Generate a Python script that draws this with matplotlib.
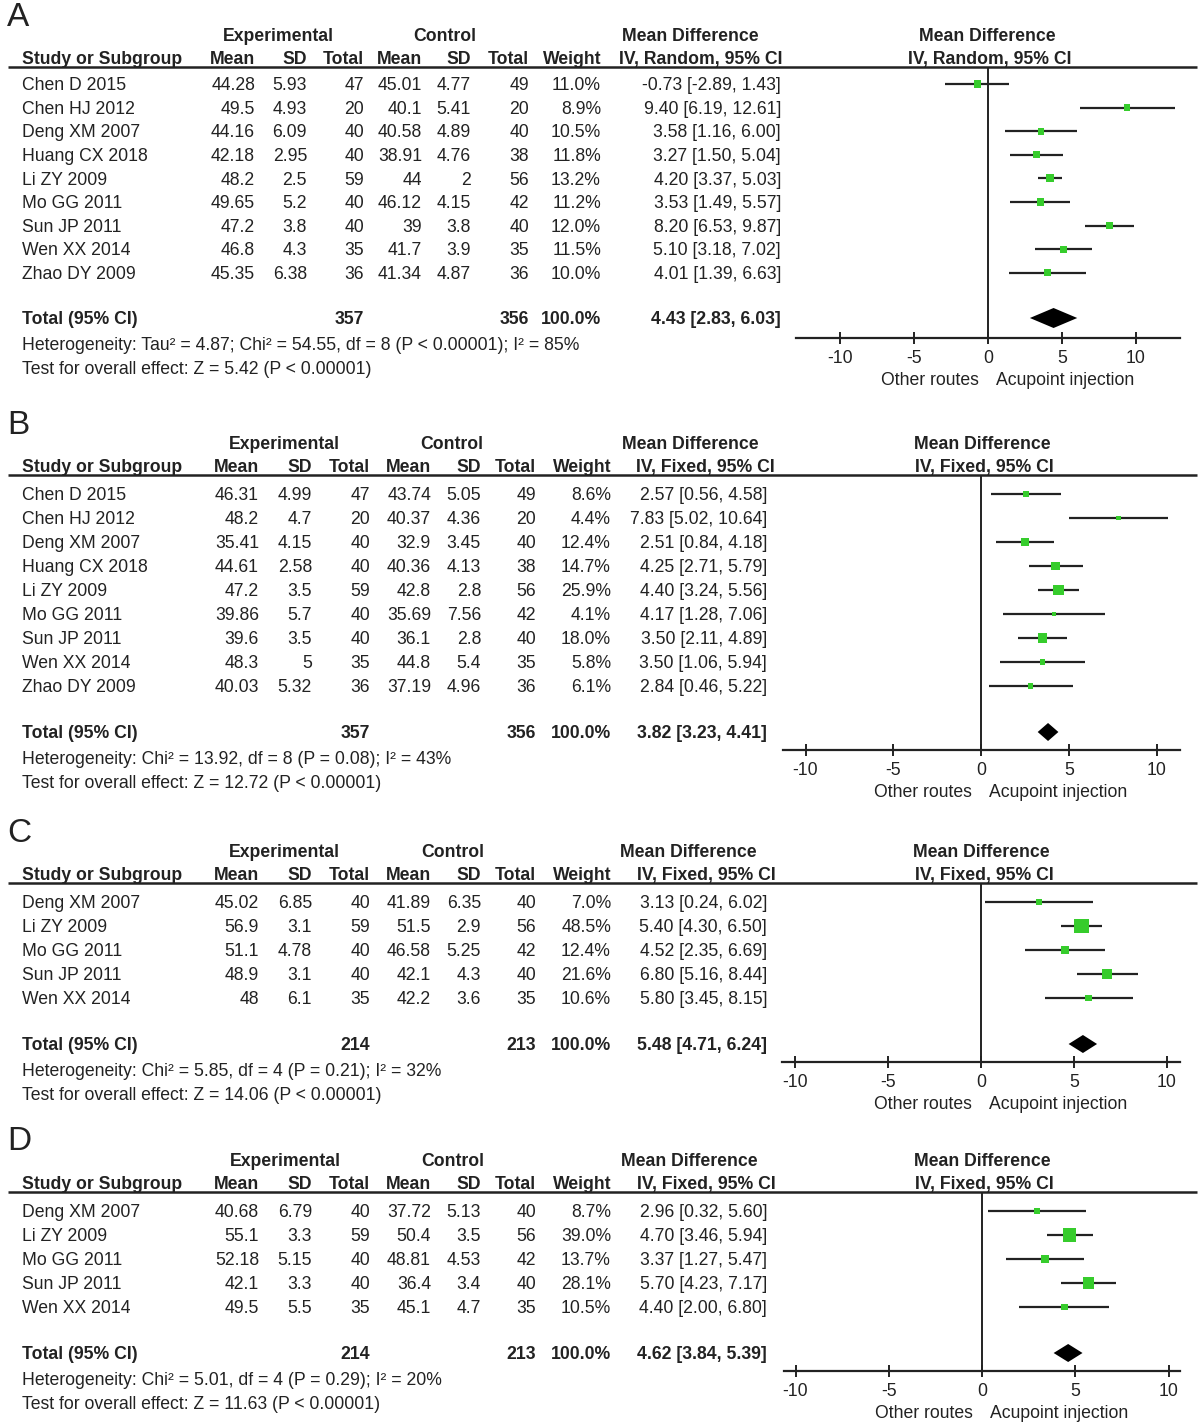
import numpy as np
import matplotlib
matplotlib.use("Agg")
import matplotlib.pyplot as plt

plt.rcParams['font.family'] = ['Liberation Sans', 'DejaVu Sans']

W, H = 1200, 1428
FS = 12.7
INK = '#222222'
GREEN = '#36cc2c'

# =========================
# Data
# =========================

# Panel A
a_studies = ['Chen D 2015', 'Chen HJ 2012', 'Deng XM 2007', 'Huang CX 2018', 'Li ZY 2009',
             'Mo GG 2011', 'Sun JP 2011', 'Wen XX 2014', 'Zhao DY 2009']
a_exp_mean = [44.28, 49.5, 44.16, 42.18, 48.2, 49.65, 47.2, 46.8, 45.35]
a_exp_sd = [5.93, 4.93, 6.09, 2.95, 2.5, 5.2, 3.8, 4.3, 6.38]
a_exp_n = [47, 20, 40, 40, 59, 40, 40, 35, 36]
a_ctl_mean = [45.01, 40.1, 40.58, 38.91, 44, 46.12, 39, 41.7, 41.34]
a_ctl_sd = [4.77, 5.41, 4.89, 4.76, 2, 4.15, 3.8, 3.9, 4.87]
a_ctl_n = [49, 20, 40, 38, 56, 42, 40, 35, 36]
a_weight = [11.0, 8.9, 10.5, 11.8, 13.2, 11.2, 12.0, 11.5, 10.0]
a_md = [-0.73, 9.40, 3.58, 3.27, 4.20, 3.53, 8.20, 5.10, 4.01]
a_lo = [-2.89, 6.19, 1.16, 1.50, 3.37, 1.49, 6.53, 3.18, 1.39]
a_hi = [1.43, 12.61, 6.00, 5.04, 5.03, 5.57, 9.87, 7.02, 6.63]
a_total = (357, 356, 4.43, 2.83, 6.03)
a_het = 'Heterogeneity: Tau² = 4.87; Chi² = 54.55, df = 8 (P < 0.00001); I² = 85%'
a_test = 'Test for overall effect: Z = 5.42 (P < 0.00001)'

# Panel B
b_studies = a_studies
b_exp_mean = [46.31, 48.2, 35.41, 44.61, 47.2, 39.86, 39.6, 48.3, 40.03]
b_exp_sd = [4.99, 4.7, 4.15, 2.58, 3.5, 5.7, 3.5, 5, 5.32]
b_exp_n = [47, 20, 40, 40, 59, 40, 40, 35, 36]
b_ctl_mean = [43.74, 40.37, 32.9, 40.36, 42.8, 35.69, 36.1, 44.8, 37.19]
b_ctl_sd = [5.05, 4.36, 3.45, 4.13, 2.8, 7.56, 2.8, 5.4, 4.96]
b_ctl_n = [49, 20, 40, 38, 56, 42, 40, 35, 36]
b_weight = [8.6, 4.4, 12.4, 14.7, 25.9, 4.1, 18.0, 5.8, 6.1]
b_md = [2.57, 7.83, 2.51, 4.25, 4.40, 4.17, 3.50, 3.50, 2.84]
b_lo = [0.56, 5.02, 0.84, 2.71, 3.24, 1.28, 2.11, 1.06, 0.46]
b_hi = [4.58, 10.64, 4.18, 5.79, 5.56, 7.06, 4.89, 5.94, 5.22]
b_total = (357, 356, 3.82, 3.23, 4.41)
b_het = 'Heterogeneity: Chi² = 13.92, df = 8 (P = 0.08); I² = 43%'
b_test = 'Test for overall effect: Z = 12.72 (P < 0.00001)'

# Panel C
c_studies = ['Deng XM 2007', 'Li ZY 2009', 'Mo GG 2011', 'Sun JP 2011', 'Wen XX 2014']
c_exp_mean = [45.02, 56.9, 51.1, 48.9, 48]
c_exp_sd = [6.85, 3.1, 4.78, 3.1, 6.1]
c_exp_n = [40, 59, 40, 40, 35]
c_ctl_mean = [41.89, 51.5, 46.58, 42.1, 42.2]
c_ctl_sd = [6.35, 2.9, 5.25, 4.3, 3.6]
c_ctl_n = [40, 56, 42, 40, 35]
c_weight = [7.0, 48.5, 12.4, 21.6, 10.6]
c_md = [3.13, 5.40, 4.52, 6.80, 5.80]
c_lo = [0.24, 4.30, 2.35, 5.16, 3.45]
c_hi = [6.02, 6.50, 6.69, 8.44, 8.15]
c_total = (214, 213, 5.48, 4.71, 6.24)
c_het = 'Heterogeneity: Chi² = 5.85, df = 4 (P = 0.21); I² = 32%'
c_test = 'Test for overall effect: Z = 14.06 (P < 0.00001)'

# Panel D
d_studies = c_studies
d_exp_mean = [40.68, 55.1, 52.18, 42.1, 49.5]
d_exp_sd = [6.79, 3.3, 5.15, 3.3, 5.5]
d_exp_n = [40, 59, 40, 40, 35]
d_ctl_mean = [37.72, 50.4, 48.81, 36.4, 45.1]
d_ctl_sd = [5.13, 3.5, 4.53, 3.4, 4.7]
d_ctl_n = [40, 56, 42, 40, 35]
d_weight = [8.7, 39.0, 13.7, 28.1, 10.5]
d_md = [2.96, 4.70, 3.37, 5.70, 4.40]
d_lo = [0.32, 3.46, 1.27, 4.23, 2.00]
d_hi = [5.60, 5.94, 5.47, 7.17, 6.80]
d_total = (214, 213, 4.62, 3.84, 5.39)
d_het = 'Heterogeneity: Chi² = 5.01, df = 4 (P = 0.29); I² = 20%'
d_test = 'Test for overall effect: Z = 11.63 (P < 0.00001)'

ticks = [-10, -5, 0, 5, 10]
tick_labels = ['-10', '-5', '0', '5', '10']
col_names = ['Mean', 'SD', 'Total', 'Mean', 'SD', 'Total', 'Weight']


# =========================
# Layout (pixels)
# =========================

COLS_A = [255, 307, 364, 422, 471, 529, 601, 781]
COLS_B = [259, 312, 370, 431, 481, 536, 611, 767]

layouts = {
    'A': dict(top=0, cols=COLS_A, grp=[278, 445, 690, 987], ci_hdr=701, fp_hdr=990,
              method='IV, Random, 95% CI', row0=84, step=23.6, total=318, het=344,
              test=368, axis=338, zero=988, ppu=14.8, ax_l=796, ax_r=1180, dh=20),
    'B': dict(top=408, cols=COLS_B, grp=[284, 452, 690, 982], ci_hdr=705, fp_hdr=984,
              method='IV, Fixed, 95% CI', row0=494, step=24, total=732, het=758,
              test=782, axis=750, zero=981, ppu=17.55, ax_l=783, ax_r=1180, dh=18),
    'C': dict(top=816, cols=COLS_B, grp=[284, 453, 688, 981], ci_hdr=706, fp_hdr=984,
              method='IV, Fixed, 95% CI', row0=902, step=24, total=1044, het=1070,
              test=1094, axis=1062, zero=981, ppu=18.6, ax_l=782, ax_r=1180, dh=18),
    'D': dict(top=1125, cols=COLS_B, grp=[285, 453, 689, 982], ci_hdr=706, fp_hdr=984,
              method='IV, Fixed, 95% CI', row0=1211, step=24, total=1353, het=1379,
              test=1403, axis=1371, zero=982, ppu=18.65, ax_l=784, ax_r=1180, dh=18),
}

fig = plt.figure(figsize=(W / 100, H / 100), dpi=100)
bg = fig.add_axes([0, 0, 1, 1])
bg.set_xlim(0, W)
bg.set_ylim(H, 0)
bg.axis('off')


def t(x, y, s, ha='right', bold=False, size=FS):
    # y is the visual centre of caps/digits
    bg.text(x, y + 6.2, s, ha=ha, va='baseline', fontsize=size, color=INK,
            fontweight='bold' if bold else 'normal')


def fmt(v):
    return f'{v:g}'


def draw_panel(label, L, studies, em, esd, en, cm, csd, cn, wt, md, lo, hi, total, het, test):
    top = L['top']
    cols = L['cols']
    grp_y, hdr_y, line_y = top + 35, top + 58, top + 67

    bg.text(7, top + 17, label, fontsize=24, ha='left', va='center', color=INK)

    for s, x in zip(['Experimental', 'Control', 'Mean Difference', 'Mean Difference'], L['grp']):
        t(x, grp_y, s, ha='center', bold=True)

    t(22, hdr_y, 'Study or Subgroup', ha='left', bold=True)
    for s, x in zip(col_names, cols):
        t(x, hdr_y, s, bold=True)
    t(L['ci_hdr'], hdr_y, L['method'], ha='center', bold=True)
    t(L['fp_hdr'], hdr_y, L['method'], ha='center', bold=True)
    bg.plot([8, 1197], [line_y, line_y], color=INK, lw=1.8, solid_capstyle='butt')

    n = len(studies)
    ys = L['row0'] + L['step'] * np.arange(n)
    for i in range(n):
        y = ys[i]
        t(22, y, studies[i], ha='left')
        vals = [fmt(em[i]), fmt(esd[i]), str(en[i]), fmt(cm[i]), fmt(csd[i]), str(cn[i]),
                f'{wt[i]:.1f}%', f'{md[i]:.2f} [{lo[i]:.2f}, {hi[i]:.2f}]']
        for s, x in zip(vals, cols):
            t(x, y, s)

    ne, nc, tmd, tlo, thi = total
    t(22, L['total'], 'Total (95% CI)', ha='left', bold=True)
    t(cols[2], L['total'], str(ne), bold=True)
    t(cols[5], L['total'], str(nc), bold=True)
    t(cols[6], L['total'], '100.0%', bold=True)
    t(cols[7], L['total'], f'{tmd:.2f} [{tlo:.2f}, {thi:.2f}]', bold=True)
    t(22, L['het'], het, ha='left')
    t(22, L['test'], test, ha='left')

    # forest plot
    fx = fig.add_axes([L['ax_l'] / W, 1 - L['axis'] / H,
                       (L['ax_r'] - L['ax_l']) / W, (L['axis'] - line_y) / H])
    fx.set_xlim((L['ax_l'] - L['zero']) / L['ppu'], (L['ax_r'] - L['zero']) / L['ppu'])
    fx.set_ylim(L['axis'], line_y)
    fx.patch.set_alpha(0)
    for s in ['top', 'left', 'right']:
        fx.spines[s].set_visible(False)
    fx.spines['bottom'].set_linewidth(1.6)
    fx.spines['bottom'].set_color(INK)
    fx.set_yticks([])
    fx.set_xticks(ticks)
    fx.set_xticklabels(tick_labels)
    fx.tick_params(axis='x', direction='inout', length=8, width=1.4, pad=4.5,
                   labelsize=FS, colors=INK)
    fx.axvline(0, color=INK, lw=1.4)

    fx.hlines(ys, lo, hi, color=INK, lw=1.6)
    side_pt = 2.15 * np.sqrt(np.array(wt)) * 0.72
    fx.scatter(md, ys, marker='s', s=side_pt ** 2, color=GREEN, linewidths=0, zorder=3)

    h = L['dh'] / 2
    fx.fill([tlo, tmd, thi, tmd], [L['total'], L['total'] - h, L['total'], L['total'] + h],
            color='black', lw=0, zorder=3)

    lab_y = L['axis'] + 41
    t(L['zero'] - 9, lab_y, 'Other routes', ha='right')
    t(L['zero'] + 8, lab_y, 'Acupoint injection', ha='left')


draw_panel('A', layouts['A'], a_studies, a_exp_mean, a_exp_sd, a_exp_n, a_ctl_mean, a_ctl_sd,
           a_ctl_n, a_weight, a_md, a_lo, a_hi, a_total, a_het, a_test)
draw_panel('B', layouts['B'], b_studies, b_exp_mean, b_exp_sd, b_exp_n, b_ctl_mean, b_ctl_sd,
           b_ctl_n, b_weight, b_md, b_lo, b_hi, b_total, b_het, b_test)
draw_panel('C', layouts['C'], c_studies, c_exp_mean, c_exp_sd, c_exp_n, c_ctl_mean, c_ctl_sd,
           c_ctl_n, c_weight, c_md, c_lo, c_hi, c_total, c_het, c_test)
draw_panel('D', layouts['D'], d_studies, d_exp_mean, d_exp_sd, d_exp_n, d_ctl_mean, d_ctl_sd,
           d_ctl_n, d_weight, d_md, d_lo, d_hi, d_total, d_het, d_test)

fig.savefig('out.png', dpi=100)
